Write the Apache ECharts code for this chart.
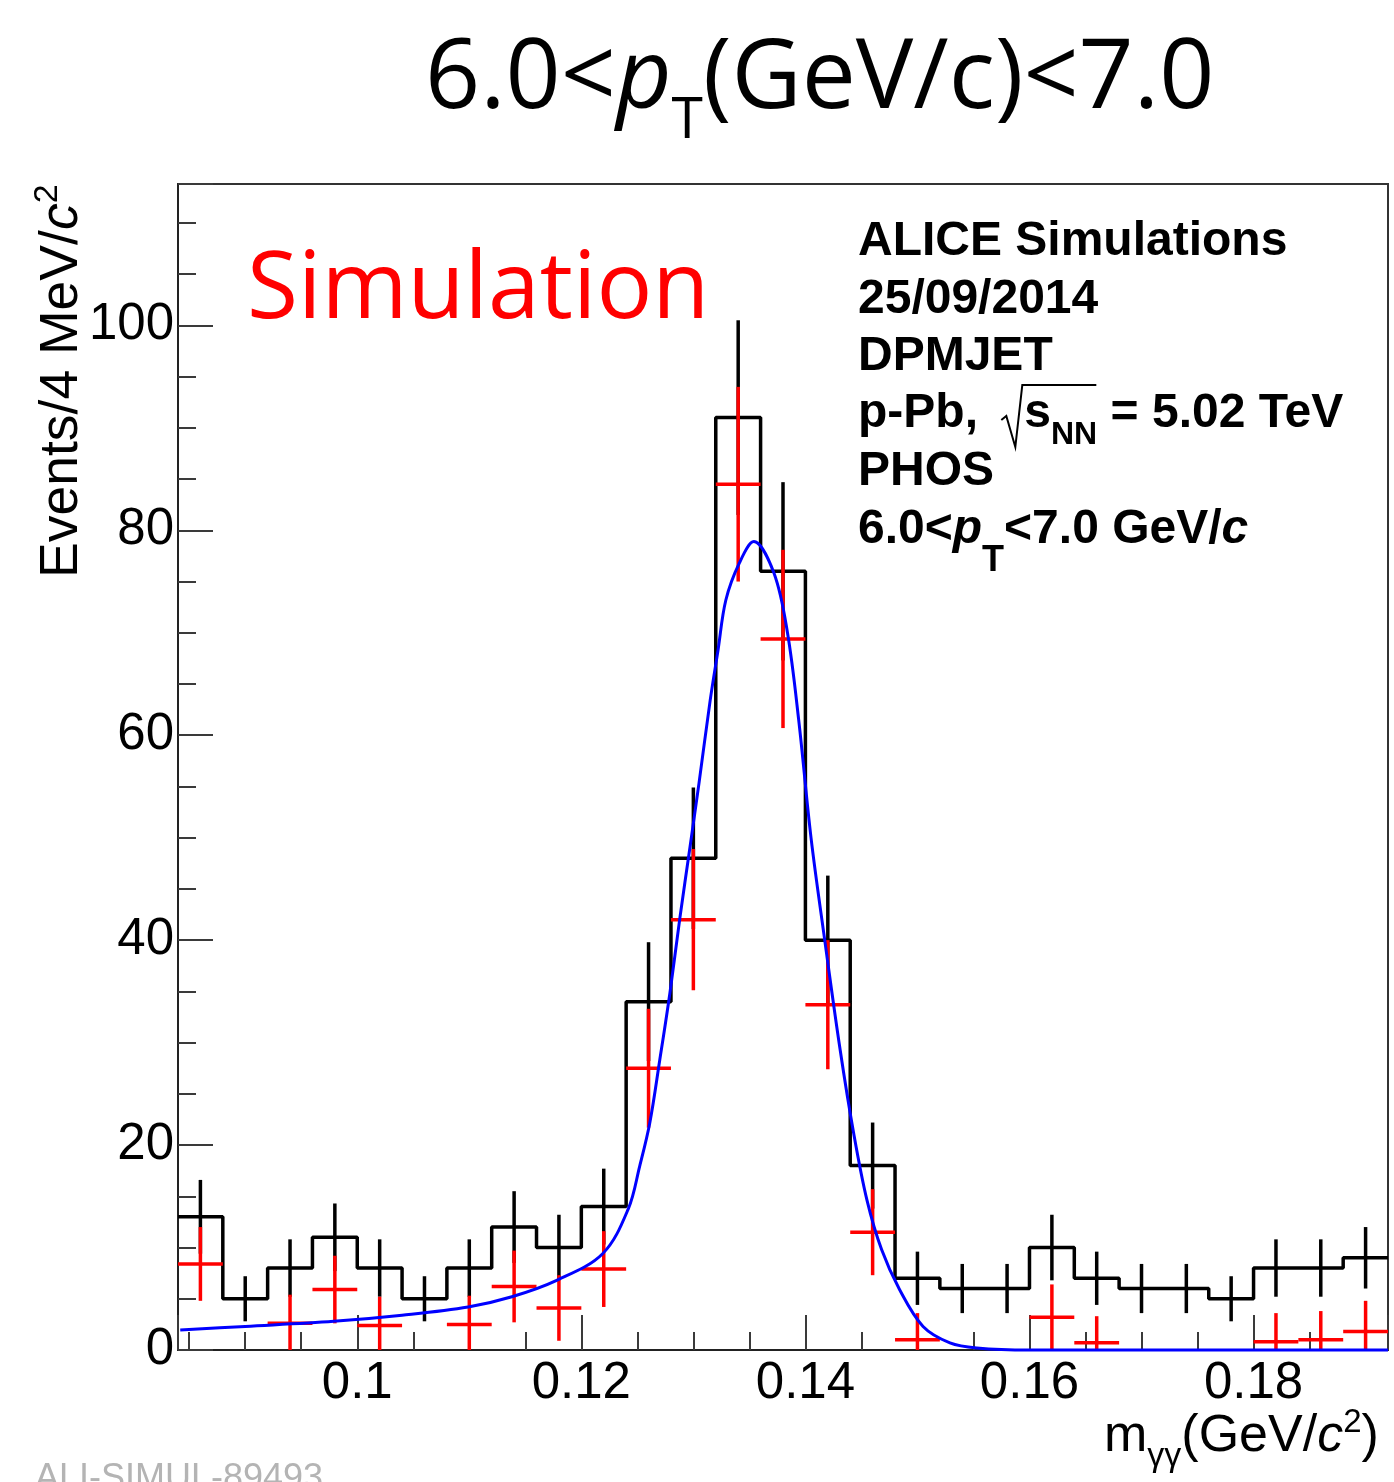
<!DOCTYPE html>
<html>
<head>
<meta charset="utf-8">
<title>PHOS pi0 peak, 6.0 &lt; pT &lt; 7.0 GeV/c</title>
<script src="https://cdn.jsdelivr.net/npm/echarts@6/dist/echarts.min.js"></script>
<style>
  html, body { margin: 0; padding: 0; background: #fff; }
  #chart { width: 1394px; height: 1482px; }
</style>
</head>
<body>
<div id="chart"></div>
<script>
// bin centres of the 4 MeV bins (GeV/c^2)
const massBins = [0.086, 0.090, 0.094, 0.098, 0.102, 0.106, 0.110, 0.114, 0.118,
  0.122, 0.126, 0.130, 0.134, 0.138, 0.142, 0.146, 0.150, 0.154, 0.158,
  0.162, 0.166, 0.170, 0.174, 0.178, 0.182, 0.186, 0.190];
const binWidth = 0.004;

// black histogram (all pairs) and its error bars
const allPairs = [13, 5, 8, 11, 8, 5, 8, 12, 10, 14, 34, 48, 91, 76, 40, 18, 7, 6, 6,
  10, 7, 6, 6, 5, 8, 8, 9];
const allPairsErr = [3.6, 2.2, 2.8, 3.3, 2.8, 2.2, 2.8, 3.5, 3.2, 3.7, 5.8, 6.9, 9.5, 8.7,
  6.3, 4.2, 2.6, 2.4, 2.4, 3.2, 2.6, 2.4, 2.4, 2.2, 2.8, 2.8, 3.0];

// red crosses (background subtracted), null = no point drawn
const signal = [8.4, null, 2.6, 5.9, 2.4, null, 2.5, 6.2, 4.1, 7.9, 27.5, 42.0, 84.5, 69.4,
  33.7, 11.5, 1.0, null, null, 3.2, 0.7, null, null, null, 0.8, 1.0, 1.8];
const signalErr = [3.6, 2.2, 2.8, 3.3, 2.8, 2.2, 2.8, 3.5, 3.2, 3.7, 5.8, 6.9, 9.5, 8.7,
  6.3, 4.2, 2.6, 2.4, 2.4, 3.2, 2.6, 2.4, 2.4, 2.2, 2.8, 2.8, 3.0];

// blue fit curve
const fitMass = [0.0842, 0.0900, 0.0979, 0.1040, 0.1099, 0.1138, 0.1178, 0.1219, 0.1242,
  0.1252, 0.1261, 0.1270, 0.1279, 0.1288, 0.1297, 0.1305, 0.1315, 0.1322, 0.1329, 0.1341,
  0.1354, 0.1372, 0.1384, 0.1394, 0.1405, 0.1417, 0.1431, 0.1443, 0.1455, 0.1468, 0.1484,
  0.1505, 0.1529, 0.1553, 0.1600, 0.1920];
const fitValue = [1.95, 2.3, 2.8, 3.4, 4.2, 5.2, 6.8, 9.4, 13.8,
  17.9, 22.1, 28.3, 34.8, 42.2, 49.1, 55.3, 63.4, 68.3, 73.2, 76.8,
  78.9, 75.8, 70.0, 61.5, 50.0, 40.2, 29.3, 21.2, 14.6, 9.8, 5.9,
  2.3, 0.7, 0.2, 0.0, 0.0];

const xMin = 0.084, xMax = 0.192;
const yMin = 0, yMax = 113.8;

const SANS = 'Liberation Sans';
const TITLE_FONT = 'Open Sans';

// --- small helper: lay text runs side by side on a common baseline ---
const measureCtx = document.createElement('canvas').getContext('2d');
const midOffset = { 'Liberation Sans': 0.3465, 'Open Sans': 0.388 };

function fontOf(r) {
  return (r.italic ? 'italic ' : 'normal ') + (r.bold ? 'bold ' : 'normal ') +
    r.size + 'px "' + r.family + '"';
}

function textRuns(x, baseline, runs, color) {
  const out = [];
  runs.forEach(function (r) {
    if (r.sqrt) {
      // root sign with overline
      out.push({
        type: 'polyline',
        shape: { points: [[x + 1, baseline - 10], [x + 6, baseline - 14], [x + 15, baseline + 17],
          [x + 22, baseline - 45], [x + 22 + r.over, baseline - 45]] },
        style: { stroke: color, lineWidth: 2, fill: null }
      });
      x += 24;
      return;
    }
    const font = fontOf(r);
    measureCtx.font = font;
    out.push({
      type: 'text',
      x: x,
      y: baseline + (r.dy || 0) - midOffset[r.family] * r.size,
      style: { text: r.t, font: font, fill: color, textAlign: 'left', textVerticalAlign: 'middle' }
    });
    x += measureCtx.measureText(r.t).width + (r.gap || 0);
  });
  return out;
}

function L(t, extra) {
  return Object.assign({ t: t, family: SANS, size: 48, bold: true }, extra || {});
}

const graphics = [].concat(
  // big title
  textRuns(425, 118, [
    { t: '6.0<', family: TITLE_FONT, size: 96.5 },
    { t: 'p', family: TITLE_FONT, size: 96.5, italic: true },
    { t: 'T', family: TITLE_FONT, size: 57, dy: 26 },
    { t: '(GeV/c)<7.0', family: TITLE_FONT, size: 96.5 }
  ], '#000'),
  // red "Simulation"
  textRuns(247, 328, [{ t: 'Simulation', family: TITLE_FONT, size: 93 }], '#ff0000'),
  // info block
  textRuns(858, 258, [L('ALICE Simulations')], '#000'),
  textRuns(858, 316, [L('25/09/2014')], '#000'),
  textRuns(858, 373, [L('DPMJET')], '#000'),
  textRuns(858, 430, [
    L('p-Pb, ', { gap: 9 }), { sqrt: true, over: 74 }, L('s'), L('NN', { size: 32, dy: 16 }),
    L(' = 5.02 TeV')
  ], '#000'),
  textRuns(858, 488, [L('PHOS')], '#000'),
  textRuns(858, 546, [
    L('6.0<'), L('p', { italic: true }), L('T', { size: 36, dy: 28 }),
    L('<7.0 GeV/'), L('c', { italic: true })
  ], '#000'),
  // x axis title
  textRuns(1104, 1455, [
    { t: 'm', family: SANS, size: 52 },
    { t: 'γγ', family: SANS, size: 34, dy: 13 },
    { t: '(GeV/', family: SANS, size: 52 },
    { t: 'c', family: SANS, size: 52, italic: true },
    { t: '2', family: SANS, size: 33, dy: -21 },
    { t: ')', family: SANS, size: 52 }
  ], '#000'),
  // watermark, cut by the bottom edge
  textRuns(35, 1492, [{ t: 'ALI-SIMUL-89493', family: SANS, size: 36 }], '#b4b4b4'),
  // y axis title (rotated)
  [{
    type: 'group',
    x: 81,
    y: 578,
    rotation: Math.PI / 2,
    children: textRuns(0, 0, [
      { t: 'Events/4 MeV/', family: SANS, size: 53.5 },
      { t: 'c', family: SANS, size: 53.5, italic: true },
      { t: '2', family: SANS, size: 34, dy: -22 }
    ], '#000')
  }]
);

// --- series data ---
const histLine = massBins.map(function (m, i) { return [m - binWidth / 2, allPairs[i]]; });
histLine.push([massBins[massBins.length - 1] + binWidth / 2, allPairs[allPairs.length - 1]]);

const histErr = massBins.map(function (m, i) { return [m, allPairs[i], allPairsErr[i]]; });
const signalPts = [];
massBins.forEach(function (m, i) {
  if (signal[i] !== null) signalPts.push([m, signal[i], signalErr[i]]);
});
const fitPts = fitMass.map(function (m, i) { return [m, fitValue[i]]; });

function errRender(color, withBin) {
  return function (params, api) {
    const x = api.value(0), y = api.value(1), e = api.value(2);
    const top = api.coord([x, y + e]);
    const bot = api.coord([x, Math.max(y - e, yMin)]);
    const children = [{
      type: 'line',
      shape: { x1: top[0], y1: top[1], x2: bot[0], y2: bot[1] },
      style: { stroke: color, lineWidth: 3.5 }
    }];
    if (withBin) {
      const a = api.coord([x - binWidth / 2, y]);
      const b = api.coord([x + binWidth / 2, y]);
      children.push({
        type: 'line',
        shape: { x1: a[0], y1: a[1], x2: b[0], y2: b[1] },
        style: { stroke: color, lineWidth: 3.5 }
      });
    }
    return { type: 'group', children: children };
  };
}

const chart = echarts.init(document.getElementById('chart'), null, { renderer: 'canvas' });

const tickStyle = { color: '#3a3a3a', width: 2 };

chart.setOption({
  animation: false,
  backgroundColor: '#fff',
  grid: {
    left: 178, right: 6, top: 184, bottom: 132,
    show: true, borderColor: '#333', borderWidth: 2, backgroundColor: 'transparent'
  },
  xAxis: {
    type: 'value',
    min: xMin,
    max: xMax,
    splitNumber: 5,
    axisLine: { show: true, onZero: false, lineStyle: { color: '#222', width: 2 } },
    axisTick: { show: true, inside: true, length: 35, lineStyle: tickStyle },
    minorTick: { show: true, splitNumber: 4, length: 18, lineStyle: tickStyle },
    splitLine: { show: false },
    axisLabel: {
      showMinLabel: false, showMaxLabel: false, margin: 8,
      fontFamily: SANS, fontSize: 51, color: '#000',
      formatter: function (v) { return String(+v.toFixed(3)); }
    }
  },
  yAxis: {
    type: 'value',
    min: yMin,
    max: yMax,
    interval: 20,
    axisLine: { show: true, lineStyle: { color: '#222', width: 2 } },
    axisTick: { show: true, inside: true, length: 35, lineStyle: tickStyle },
    minorTick: { show: true, splitNumber: 4, length: 18, lineStyle: tickStyle },
    splitLine: { show: false },
    axisLabel: {
      showMaxLabel: false, margin: 4,
      fontFamily: SANS, fontSize: 51, color: '#000'
    }
  },
  graphic: graphics,
  series: [
    {
      name: 'all pairs',
      type: 'line',
      step: 'end',
      data: histLine,
      symbol: 'none',
      lineStyle: { color: '#000', width: 3.5 },
      z: 2
    },
    {
      name: 'all pairs err',
      type: 'custom',
      data: histErr,
      renderItem: errRender('#000', false),
      clip: true,
      z: 3
    },
    {
      name: 'signal',
      type: 'custom',
      data: signalPts,
      renderItem: errRender('#ff0000', true),
      clip: true,
      z: 4
    },
    {
      name: 'fit',
      type: 'line',
      data: fitPts,
      smooth: 0.35,
      symbol: 'none',
      clip: false,
      lineStyle: { color: '#0000ff', width: 3 },
      z: 5
    }
  ]
});
</script>
</body>
</html>
